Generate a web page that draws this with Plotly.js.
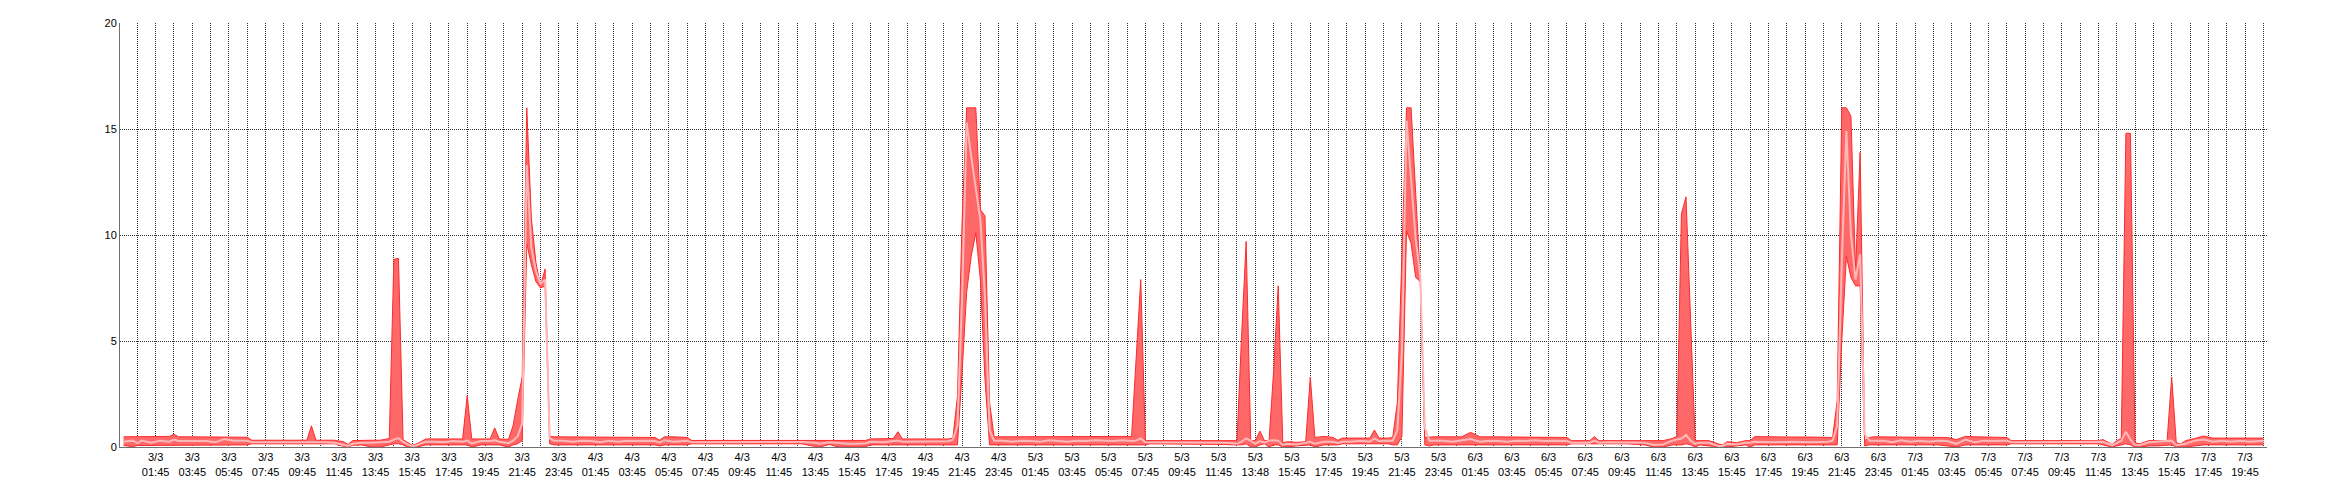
<!DOCTYPE html>
<html><head><meta charset="utf-8">
<script src="https://cdn.plot.ly/plotly-3.0.1.min.js"></script>
<style>html,body{margin:0;padding:0;background:#fff}#chart{width:2340px;height:500px}</style>
</head><body><div id="chart"></div>
<script>
// Sample times, in hours after 3/3 00:00
const hours3 = [0,0.5,0.75,1, 1.5,2,2.5,2.75, 3,3.5,4,4.5, 5,5.5,6,6.5, 6.75,7,7.5,8, 8.5,9,9.5,10, 10.25,10.5,11,11.5, 12,12.25,12.5,13, 13.5,14,14.5,14.75, 15,15.25,15.5,15.75, 16,16.25,16.5,17, 17.5,18,18.5,18.75, 19,19.5,20,20.25, 20.5,21,21.25,21.5, 21.75,22,22.25,22.5, 22.75,23,23.25,23.5];
const max3 = [0.48,0.48,0.48,0.48, 0.48,0.48,0.5,0.6, 0.48,0.48,0.48,0.48, 0.48,0.48,0.48,0.48, 0.46,0.32,0.32,0.32, 0.32,0.32,0.32,0.32, 1.0,0.32,0.32,0.32, 0.25,0.12,0.3,0.32, 0.32,0.32,0.4,8.85, 8.9,0.35,0.2,0.08, 0.15,0.25,0.38,0.38, 0.38,0.38,0.38,2.42, 0.38,0.38,0.38,0.9, 0.38,0.36,1.0,2.2, 3.3,16,10.8,8.7, 7.6,8.4,0.5,0.48];
const avg3 = [0.25,0.3,0.18,0.3, 0.2,0.3,0.25,0.35, 0.28,0.28,0.3,0.28, 0.22,0.38,0.3,0.3, 0.3,0.22,0.22,0.24, 0.22,0.22,0.22,0.24, 0.25,0.22,0.22,0.2, 0.12,0.05,0.15,0.2, 0.2,0.22,0.25,0.35, 0.42,0.25,0.12,0.04, 0.08,0.18,0.25,0.25, 0.22,0.28,0.25,0.3, 0.17,0.28,0.28,0.32, 0.25,0.18,0.3,0.5, 1.1,13.3,9.4,8.3, 7.7,7.9,0.4,0.3];
const min3 = [0.07,0.02,0.07,0.07, 0.07,0.07,0.07,0.07, 0.07,0.07,0.07,0.07, 0.07,0.07,0.07,0.07, 0.1,0.15,0.15,0.15, 0.15,0.15,0.15,0.15, 0.15,0.15,0.15,0.15, 0.03,0,0.08,0.1, 0,0,0.1,0.15, 0.15,0.1,0,0, 0,0.05,0.1,0.1, 0.1,0.1,0.1,0.1, 0,0.1,0.1,0.1, 0.1,0,0.1,0.15, 0.3,9.6,8.6,7.8, 7.5,7.6,0.15,0.1];

const hours4 = [24,24.5,25,25.5, 26,26.5,27,27.5, 28,28.5,29,29.25, 29.5,30,30.5,30.75, 31,32,33,34, 35,36,37,37.75, 38,38.5,39,39.5, 40,40.5,40.75,41, 41.5,42,42.25,42.5, 43,44,45,45.25, 45.5,45.75,46,46.25, 46.5,46.75,47,47.25, 47.5];
const max4 = [0.48,0.48,0.48,0.48, 0.48,0.48,0.48,0.48, 0.48,0.48,0.45,0.32, 0.48,0.48,0.48,0.45, 0.31,0.31,0.31,0.31, 0.31,0.31,0.31,0.31, 0.28,0.31,0.3,0.31, 0.3,0.31,0.38,0.38, 0.38,0.4,0.72,0.38, 0.38,0.38,0.38,0.42, 2.4,10.6,16,16, 16,11.2,10.9,2.1, 0.48];
const avg4 = [0.3,0.25,0.3,0.28, 0.22,0.3,0.25,0.3, 0.28,0.3,0.28,0.2, 0.32,0.25,0.3,0.3, 0.22,0.22,0.22,0.22, 0.22,0.22,0.24,0.2, 0.15,0.22,0.18,0.15, 0.15,0.18,0.25,0.25, 0.22,0.28,0.3,0.25, 0.25,0.27,0.27,0.35, 1.0,7.0,15.3,13.7, 12.1,10.7,7.1,0.8, 0.3];
const min4 = [0.1,0.1,0.1,0.1, 0.1,0.1,0.1,0.1, 0.1,0.1,0.1,0.05, 0.1,0.1,0.1,0.1, 0.15,0.15,0.15,0.15, 0.15,0.15,0.15,0.02, 0,0.12,0,0, 0,0.02,0.1,0.1, 0.1,0.1,0.12,0.1, 0.1,0.1,0.1,0.1, 0.1,3.5,7.3,9.0, 10.1,7.9,3.2,0.1, 0.1];

const hours5 = [48,48.5,49,49.5, 50,50.5,51,51.5, 52,52.5,53,53.5, 54,54.5,55,55.25, 55.5,55.75,56,57, 58,59,60,60.5, 60.75,61,61.25,61.5, 61.75,62,62.25,62.5, 62.75,63,63.25,63.5, 64,64.5,64.75,65, 65.5,66,66.25,66.5, 67,67.5,68,68.25, 68.5,69,69.25,69.5, 69.75,70,70.25,70.5, 70.75,71,71.25,71.5];
const max5 = [0.48,0.48,0.48,0.48, 0.48,0.48,0.48,0.48, 0.48,0.5,0.5,0.5, 0.5,0.5,0.5,4.2, 7.9,0.3,0.3,0.3, 0.3,0.3,0.3,0.3, 0.3,5.2,9.7,0.3, 0.3,0.75,0.3,0.3, 3.6,7.6,0.2,0.25, 0.22,0.25,3.3,0.45, 0.5,0.45,0.32,0.42, 0.42,0.42,0.42,0.8, 0.42,0.42,0.45,2.1, 9.4,16,16,12.3, 8.0,0.45,0.48,0.48];
const avg5 = [0.3,0.25,0.3,0.28, 0.25,0.32,0.28,0.25, 0.3,0.28,0.32,0.3, 0.28,0.32,0.28,0.3, 0.4,0.22,0.22,0.22, 0.22,0.22,0.2,0.18, 0.15,0.25,0.4,0.3, 0.15,0.28,0.2,0.3, 0.32,0.3,0.1,0.15, 0.12,0.2,0.25,0.15, 0.25,0.25,0.18,0.25, 0.25,0.3,0.25,0.4, 0.28,0.3,0.3,0.8, 4.5,15.4,12.6,9.8, 8.1,0.9,0.3,0.3];
const min5 = [0.1,0.1,0.1,0.1, 0.1,0.1,0.1,0.1, 0.1,0.1,0.1,0.1, 0.1,0.1,0.1,0.1, 0.1,0.1,0.15,0.15, 0.15,0.15,0.12,0.1, 0.1,0.1,0.15,0, 0,0.1,0.15,0, 0.1,0.1,0,0, 0.05,0.1,0.1,0, 0.1,0.1,0.1,0.15, 0.15,0.15,0.15,0.15, 0.15,0.15,0.1,0.1, 0.5,10.2,9.6,8.0, 7.8,0.1,0.05,0.1];

const hours6 = [72,72.5,73,73.5, 74,74.5,75,75.5, 76,76.5,77,77.5, 78,78.75,79,80, 80.25,80.5,81,82, 83,83.5,84,84.5, 84.75,85,85.25,85.5, 85.75,86,86.5,87, 87.25,87.5,88,88.5, 88.75,89,90,91, 92,93,93.25,93.5, 93.75,94,94.25,94.5, 94.75,95,95.25,95.5];
const max6 = [0.48,0.48,0.48,0.69, 0.48,0.48,0.48,0.48, 0.48,0.48,0.48,0.48, 0.48,0.45,0.3,0.3, 0.49,0.3,0.3,0.3, 0.3,0.3,0.3,0.4, 0.5,11.0,11.8,6.0, 0.3,0.3,0.3,0.15, 0.1,0.25,0.2,0.3, 0.3,0.49,0.47,0.47, 0.47,0.47,0.45,2.2, 16,16,15.6,8.3, 13.9,0.3,0.45,0.48];
const avg6 = [0.3,0.25,0.3,0.38, 0.25,0.3,0.28,0.25, 0.3,0.28,0.32,0.28, 0.3,0.28,0.2,0.2, 0.3,0.2,0.22,0.2, 0.2,0.1,0.12,0.3, 0.35,0.4,0.57,0.3, 0.15,0.2,0.2,0.05, 0.05,0.15,0.12,0.2, 0.2,0.25,0.22,0.25, 0.22,0.25,0.3,1.0, 8.7,14.9,10.0,7.9, 9.1,0.6,0.3,0.3];
const min6 = [0.1,0.1,0.1,0.1, 0.1,0.1,0.1,0.1, 0.1,0.1,0.1,0.1, 0.1,0.1,0.15,0.15, 0.15,0.15,0.15,0.15, 0.1,0,0,0.1, 0.1,0.1,0.15,0.1, 0,0.1,0.05,0, 0,0,0.05,0.1, 0,0.1,0.1,0.1, 0.1,0.1,0.1,0.1, 5.0,9.0,8.0,7.6, 7.6,0.05,0.1,0.1];

const hours7 = [96,96.5,97,97.5, 98,98.5,99,99.5, 100,100.5,101,101.5, 102,102.75,103,104, 105,106,107,107.75, 108,108.5,108.75,109, 109.25,109.5,109.75,110, 110.5,111,111.5,111.75, 112,112.25,112.5,113, 113.5,114,114.5,115, 115.5,116,116.5,116.75];
const max7 = [0.48,0.48,0.48,0.48, 0.48,0.48,0.48,0.45, 0.35,0.5,0.48,0.48, 0.48,0.45,0.3,0.3, 0.3,0.3,0.3,0.3, 0.35,0.12,0.3,0.4, 14.8,14.8,0.2,0.15, 0.3,0.3,0.3,3.3, 0.2,0.15,0.3,0.4, 0.52,0.42,0.42,0.42, 0.42,0.42,0.42,0.42];
const avg7 = [0.3,0.22,0.32,0.25, 0.3,0.25,0.3,0.28, 0.15,0.35,0.22,0.3, 0.28,0.3,0.22,0.22, 0.22,0.22,0.22,0.22, 0.25,0.08,0.2,0.3, 0.72,0.35,0.1,0.08, 0.22,0.25,0.25,0.3, 0.08,0.1,0.15,0.3, 0.35,0.25,0.3,0.25, 0.3,0.25,0.28,0.3];
const min7 = [0.1,0.1,0.1,0.1, 0.1,0.1,0.1,0.05, 0,0.1,0.1,0.1, 0.1,0.1,0.15,0.15, 0.15,0.15,0.15,0.15, 0.1,0,0.05,0.1, 0.15,0.1,0,0, 0.05,0.05,0.1,0.1, 0,0,0,0.05, 0.1,0.1,0.1,0.1, 0.1,0.1,0.1,0.1];

// Tick labels, one every two hours (gridline every hour)
const tickLabels = [
 "3/3 01:45","3/3 03:45","3/3 05:45","3/3 07:45","3/3 09:45","3/3 11:45","3/3 13:45","3/3 15:45","3/3 17:45","3/3 19:45","3/3 21:45","3/3 23:45",
 "4/3 01:45","4/3 03:45","4/3 05:45","4/3 07:45","4/3 09:45","4/3 11:45","4/3 13:45","4/3 15:45","4/3 17:45","4/3 19:45","4/3 21:45","4/3 23:45",
 "5/3 01:45","5/3 03:45","5/3 05:45","5/3 07:45","5/3 09:45","5/3 11:45","5/3 13:48","5/3 15:45","5/3 17:45","5/3 19:45","5/3 21:45","5/3 23:45",
 "6/3 01:45","6/3 03:45","6/3 05:45","6/3 07:45","6/3 09:45","6/3 11:45","6/3 13:45","6/3 15:45","6/3 17:45","6/3 19:45","6/3 21:45","6/3 23:45",
 "7/3 01:45","7/3 03:45","7/3 05:45","7/3 07:45","7/3 09:45","7/3 11:45","7/3 13:45","7/3 15:45","7/3 17:45","7/3 19:45"
];
const yTicks = [0, 5, 10, 15, 20];

const startMs = Date.UTC(2014, 2, 3, 0, 0);
const HOUR = 3600000;
const toMs = h => startMs + h * HOUR;

const hours = [].concat(hours3, hours4, hours5, hours6, hours7);
const minV = [].concat(min3, min4, min5, min6, min7);
const avgV = [].concat(avg3, avg4, avg5, avg6, avg7);
const maxV = [].concat(max3, max4, max5, max6, max7);
const x = hours.map(toMs);

const tickvals = [], ticktext = [];
for (let k = 0; k <= 116; k++) {
  tickvals.push(toMs(0.75 + k));
  ticktext.push(k % 2 === 1 ? tickLabels[(k - 1) / 2].replace(' ', '<br>') : '');
}

const edge = '#ff2a2a';
const traces = [
  {x: x, y: minV, type: 'scatter', mode: 'lines', line: {color: edge, width: 1}, hoverinfo: 'skip'},
  {x: x, y: maxV, type: 'scatter', mode: 'lines', fill: 'tonexty', fillcolor: '#ff6868', line: {color: edge, width: 1}, hoverinfo: 'skip'},
  {x: x, y: avgV, type: 'scatter', mode: 'lines', line: {color: '#ffb8b8', width: 2}, hoverinfo: 'skip'}
];

const font = {family: '"Liberation Sans", Arial, sans-serif', size: 11, color: '#000'};
const gridCol = '#333';
const layout = {
  width: 2340, height: 500,
  margin: {l: 120, r: 73, t: 23, b: 53, pad: 0},
  paper_bgcolor: '#fff', plot_bgcolor: '#fff',
  showlegend: false,
  font: font,
  xaxis: {
    type: 'date', range: [toMs(-0.194), toMs(116.95)],
    tickmode: 'array', tickvals: tickvals, ticktext: ticktext,
    showgrid: true, gridcolor: gridCol, griddash: '1px,1px', gridwidth: 1,
    showline: true, linecolor: '#6e6e6e', linewidth: 1, zeroline: false,
    ticks: '', tickfont: font, fixedrange: true
  },
  yaxis: {
    range: [0, 20], tickmode: 'array', tickvals: yTicks,
    showgrid: true, gridcolor: gridCol, griddash: '1px,1px', gridwidth: 1,
    showline: true, linecolor: '#6e6e6e', linewidth: 1, zeroline: false,
    ticks: '', tickfont: font, fixedrange: true
  }
};
Plotly.newPlot('chart', traces, layout, {staticPlot: true, displayModeBar: false});
</script></body></html>
